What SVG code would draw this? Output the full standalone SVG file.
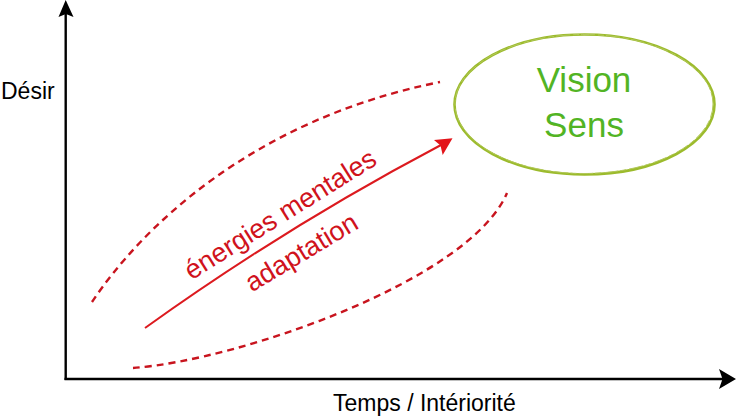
<svg xmlns="http://www.w3.org/2000/svg" width="737" height="418" viewBox="0 0 737 418">
  <style>
    .axis { stroke: #000; stroke-width: 2.4; fill: none; }
    .head { fill: #000; }
    .dash { stroke: #c8141e; stroke-width: 2.4; fill: none; stroke-dasharray: 7 5; }
    .arrow { stroke: #dc1a1f; stroke-width: 2; fill: none; }
    .lbl { font-family: "Myriad Pro", "Liberation Sans", Arial, sans-serif; font-size: 23px; fill: #000; }
    .red { font-family: "Myriad Pro", "Liberation Sans", Arial, sans-serif; font-size: 27px; fill: #d0121c; text-anchor: middle; }
    .green { font-family: "Myriad Pro", "Liberation Sans", Arial, sans-serif; font-size: 35px; fill: #52b424; text-anchor: middle; }
  </style>
  <rect width="737" height="418" fill="#fff"/>
  <g id="axes">
    <line class="axis" x1="65.7" y1="380" x2="65.7" y2="12"/>
    <path class="head" d="M65.7,0 L73.5,17 L65.9,14 L58.5,17 Z"/>
    <line class="axis" x1="64.5" y1="379" x2="724" y2="379"/>
    <path class="head" d="M736,379 L719,369 L722.5,379 L719,389 Z"/>
    <text class="lbl" x="1" y="99">Désir</text>
    <text class="lbl" x="333" y="411">Temps / Intériorité</text>
  </g>
  <g id="connectors">
    <path class="dash" d="M92,302 C140,230 250,120 440,82"/>
    <path class="dash" d="M133,368 C240,360 470,280 507,193"/>
    <path class="arrow" d="M145,328 Q286.6,226.3 441,145"/>
    <path fill="#e3141a" d="M452.5,138.3 L434,140 L440.5,145.5 L442.7,155 Z"/>
  </g>
  <g id="labels">
    <text class="red" transform="translate(285,222) rotate(-32)">énergies mentales</text>
    <text class="red" transform="translate(306,260) rotate(-31)">adaptation</text>
  </g>
  <g id="vision-sens">
    <ellipse cx="584.5" cy="104.5" rx="130" ry="70" fill="none" stroke="#9cbb2c" stroke-width="2.6"/>
    <ellipse cx="584" cy="104" rx="129" ry="69.5" fill="none" stroke="#b2c85a" stroke-width="1" stroke-dasharray="14 3 6 2"/>
    <text class="green" x="584" y="92">Vision</text>
    <text class="green" x="584" y="137">Sens</text>
  </g>
</svg>
